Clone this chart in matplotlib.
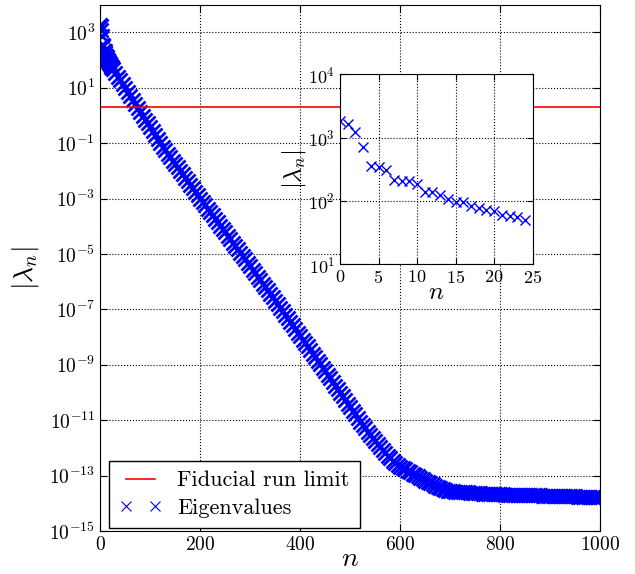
import matplotlib
matplotlib.use("Agg")
import matplotlib.pyplot as plt
import numpy as np

plt.rcParams.update({
    'font.family': 'serif',
    'font.serif': ['cmr10'],
    'mathtext.fontset': 'cm',
    'axes.formatter.use_mathtext': True,
    'axes.unicode_minus': False,
})

# first 25 eigenvalues
n_head = np.arange(0, 25)
lam_head = [1830, 1620, 1230, 720, 357, 345, 310, 215, 210, 210, 186, 137, 137,
            124, 108, 98, 95, 83, 78, 72, 70, 60, 58, 55, 51]

# the rest, log10 |lambda_n| read every 5 steps from the main panel
n_tail = np.arange(25, 1001, 5)
log_lam_tail = [
    1.68, 1.54, 1.40, 1.26, 1.12, 0.98, 0.84, 0.69, 0.55, 0.41,
    0.27, 0.13, -0.01, -0.15, -0.29, -0.43, -0.58, -0.72, -0.86, -1.00,
    -1.13, -1.25, -1.38, -1.50, -1.63, -1.75, -1.88, -2.00, -2.13, -2.25,
    -2.38, -2.50, -2.63, -2.75, -2.88, -3.00, -3.12, -3.24, -3.37, -3.49,
    -3.61, -3.73, -3.85, -3.98, -4.10, -4.22, -4.34, -4.46, -4.59, -4.71,
    -4.83, -4.95, -5.07, -5.20, -5.32, -5.45, -5.57, -5.70, -5.82, -5.95,
    -6.07, -6.20, -6.32, -6.45, -6.57, -6.70, -6.82, -6.95, -7.07, -7.20,
    -7.33, -7.46, -7.58, -7.71, -7.84, -7.96, -8.09, -8.22, -8.34, -8.47,
    -8.60, -8.72, -8.85, -8.97, -9.10, -9.23, -9.36, -9.49, -9.62, -9.75,
    -9.88, -10.01, -10.14, -10.27, -10.40, -10.53, -10.66, -10.79, -10.92, -11.05,
    -11.17, -11.29, -11.42, -11.54, -11.65, -11.76, -11.87, -11.98, -12.09, -12.19,
    -12.29, -12.38, -12.46, -12.54, -12.61, -12.68, -12.73, -12.78, -12.83, -12.88,
    -12.93, -12.98, -13.03, -13.08, -13.13, -13.18, -13.23, -13.28, -13.32, -13.37,
    -13.41, -13.45, -13.48, -13.51, -13.54, -13.56, -13.57, -13.58, -13.59, -13.60,
    -13.60, -13.61, -13.61, -13.62, -13.62, -13.63, -13.64, -13.64, -13.65, -13.65,
    -13.66, -13.66, -13.67, -13.67, -13.68, -13.68, -13.68, -13.69, -13.69, -13.69,
    -13.70, -13.70, -13.70, -13.70, -13.71, -13.71, -13.71, -13.71, -13.72, -13.72,
    -13.72, -13.72, -13.73, -13.73, -13.73, -13.73, -13.73, -13.74, -13.74, -13.74,
    -13.74, -13.75, -13.75, -13.75, -13.75, -13.75, -13.76, -13.76, -13.76, -13.76,
    -13.76, -13.77, -13.77, -13.77, -13.77, -13.77,
]

fiducial_limit = 2.0

n_all = np.concatenate([n_head, n_tail])
lam_all = np.concatenate([lam_head, 10.0 ** np.array(log_lam_tail)])

fig = plt.figure(figsize=(6.35, 5.74), dpi=100)
ax = fig.add_axes([0.1575, 0.075, 0.7874, 0.917])

eig, = ax.semilogy(n_all, lam_all, 'x', color='blue', ms=10, mew=2.0,
                   label='Eigenvalues')
fid = ax.axhline(fiducial_limit, color='red', lw=1.2, label='Fiducial run limit')

ax.set_xlim(0, 1000)
ax.set_ylim(1e-15, 1e4)
ax.set_yticks(10.0 ** np.arange(-15, 4, 2))
ax.minorticks_off()
ax.tick_params(direction='in', top=True, right=True, labelsize=14, length=5)
ax.grid(True, color='black', linestyle=':', linewidth=0.8)
ax.set_xlabel(r'$n$', fontsize=20, labelpad=-6)
ax.set_ylabel(r'$|\lambda_n|$', fontsize=20, labelpad=6)

# legend handle uses thin markers like the reference
leg = ax.legend([fid, eig], ['Fiducial run limit', 'Eigenvalues'],
                loc='lower left', bbox_to_anchor=(0.018, 0.006), borderaxespad=0,
                numpoints=2, fancybox=False, framealpha=1,
                edgecolor='black', fontsize=16, borderpad=0.45,
                handlelength=1.9, handletextpad=0.72, labelspacing=0.35)
leg.get_frame().set_linewidth(1.0)
for h in leg.legend_handles:
    h.set_markersize(7)
    h.set_markeredgewidth(0.8)

# inset with the first 25 eigenvalues
axin = fig.add_axes([0.5354, 0.5395, 0.3035, 0.331])
axin.semilogy(n_head, lam_head, 'x', color='blue', ms=7, mew=1.0)
axin.set_xlim(0, 25)
axin.set_ylim(1e1, 1e4)
axin.set_xticks([0, 5, 10, 15, 20, 25])
axin.minorticks_off()
axin.tick_params(direction='in', top=True, right=True, labelsize=13, length=4)
axin.grid(True, color='black', linestyle=':', linewidth=0.8)
axin.set_xlabel(r'$n$', fontsize=18, labelpad=-3)
axin.set_ylabel(r'$|\lambda_n|$', fontsize=18, labelpad=0)

fig.savefig('out.png', dpi=100)
